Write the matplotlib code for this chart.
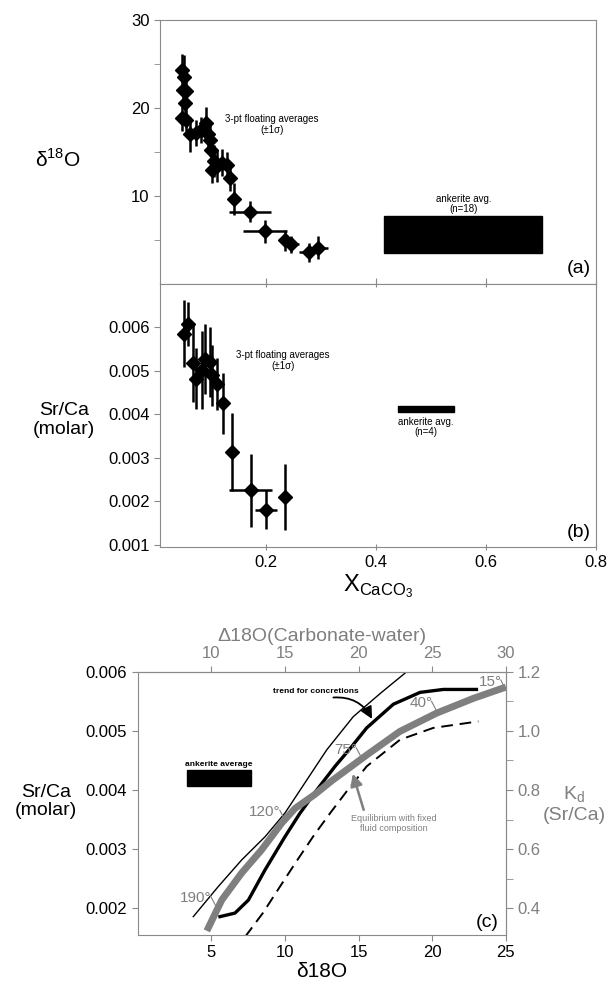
import matplotlib.pyplot as plt
import numpy as np
from matplotlib.patches import Rectangle

plt.rcParams["font.family"] = ["Liberation Sans", "DejaVu Sans"]

# panel (a): 3-pt floating averages, d18O vs X_CaCO3
A_X = [0.047, 0.050, 0.048, 0.054, 0.052, 0.047, 0.055, 0.062, 0.072, 0.082, 0.090, 0.094,
       0.098, 0.100, 0.101, 0.105, 0.110, 0.119, 0.128, 0.135, 0.142, 0.171, 0.198, 0.235,
       0.245, 0.278, 0.295]
A_Y = [24.3, 23.5, 22.0, 21.9, 20.6, 18.9, 18.7, 17.0, 17.2, 17.5, 18.3, 17.0,
       16.4, 15.2, 13.0, 14.0, 13.4, 13.8, 13.5, 12.1, 9.7, 8.2, 6.0, 4.95,
       4.5, 3.6, 4.1]
A_XERR = [0.004, 0.004, 0.005, 0.005, 0.005, 0.004, 0.005, 0.006, 0.008, 0.008, 0.008, 0.008,
          0.008, 0.008, 0.008, 0.008, 0.010, 0.012, 0.012, 0.008, 0.010, 0.038, 0.040, 0.010,
          0.015, 0.018, 0.018]
A_YERR = [1.9, 2.5, 2.0, 1.8, 1.5, 1.5, 1.3, 2.0, 1.5, 1.5, 1.8, 1.5,
          1.8, 2.0, 1.5, 1.8, 1.8, 1.5, 1.5, 1.5, 1.8, 1.2, 1.3, 1.2,
          1.0, 1.1, 1.3]
A_ANK = (0.415, 0.702, 3.56, 7.77)  # x0, x1, y0, y1

# panel (b): Sr/Ca vs X_CaCO3
B_X = [0.050, 0.057, 0.066, 0.073, 0.083, 0.089, 0.097, 0.101, 0.110, 0.122, 0.138, 0.172, 0.200, 0.235]
B_Y = [0.00586, 0.00608, 0.00518, 0.00482, 0.00503, 0.00528, 0.00520, 0.00490, 0.00470, 0.00426,
       0.00313, 0.00225, 0.00181, 0.00210]
B_XERR = [0.004, 0.004, 0.005, 0.005, 0.006, 0.006, 0.006, 0.006, 0.006, 0.006, 0.006, 0.039, 0.020, 0.010]
B_YERR = [0.00077, 0.00050, 0.00090, 0.00070, 0.00090, 0.00080, 0.00080, 0.00070, 0.00060, 0.00070,
          0.00090, 0.00085, 0.00045, 0.00075]
B_ANK = (0.44, 0.542, 0.00405, 0.00420)

# panel (c): model curves, Sr/Ca vs d18O
THIN_X = [3.78, 5.48, 7.07, 8.65, 10.0, 11.3, 12.84, 14.64, 16.46, 18.27]
THIN_Y = [0.00186, 0.00237, 0.00282, 0.00321, 0.00361, 0.00410, 0.00468, 0.00524, 0.00563, 0.00600]
THICK_X = [5.59, 6.61, 7.52, 8.65, 10.0, 11.0, 12.16, 13.4, 14.42, 15.55, 17.36, 19.17, 20.75, 23.0]
THICK_Y = [0.00186, 0.00192, 0.00214, 0.00265, 0.00321, 0.00360, 0.00400, 0.00440, 0.00470,
           0.00505, 0.00545, 0.00565, 0.00570, 0.00570]
GRAY_X = [4.7, 5.71, 7.07, 8.42, 9.78, 10.69, 12.0, 13.2, 14.4, 15.6, 17.8, 20.3, 22.8, 25.0]
GRAY_Y = [0.00162, 0.00214, 0.00260, 0.00299, 0.00344, 0.00369, 0.00392, 0.00416, 0.00438,
          0.00460, 0.00499, 0.00530, 0.00555, 0.00574]
DASH_X = [7.3, 8.5, 9.67, 10.69, 11.93, 13.1, 14.2, 15.55, 17.81, 20.07, 23.13]
DASH_Y = [0.00152, 0.00192, 0.00237, 0.00276, 0.00322, 0.00362, 0.00398, 0.00440, 0.00485,
          0.00505, 0.00516]
TEMP_LABELS = ["190°", "120°", "75°", "40°", "15°"]
TEMP_X = [5.0, 9.7, 14.9, 20.0, 24.7]
TEMP_Y = [0.00218, 0.00363, 0.00468, 0.00547, 0.00583]
C_ANK = (3.33, 7.73, 0.00406, 0.00434)

GRAY = "#7f7f7f"
SPINE = "#8a8a8a"


def style_axes(ax):
    for s in ax.spines.values():
        s.set_color(SPINE)
        s.set_linewidth(0.8)
    ax.tick_params(labelsize=12, color=SPINE, length=4)


fig = plt.figure(figsize=(6.11, 9.81), dpi=100)

# ---------- (a)
ax_a = fig.add_axes([0.262, 0.7105, 0.7135, 0.269])
ax_a.errorbar(A_X, A_Y, xerr=A_XERR, yerr=A_YERR, fmt="D", color="black", ms=7.5,
              elinewidth=1.8, capsize=0)
x0, x1, y0, y1 = A_ANK
ax_a.add_patch(Rectangle((x0, y0), x1 - x0, y1 - y0, color="black"))
ax_a.text((x0 + x1) / 2, y1 + 0.2, "ankerite avg.\n(n=18)", ha="center", va="bottom",
          fontsize=7, linespacing=1.0)
ax_a.text(0.21, 18.1, "3-pt floating averages\n(±1σ)", ha="center", va="center",
          fontsize=7, linespacing=1.1)
ax_a.text(0.79, 0.8, "(a)", ha="right", va="bottom", fontsize=14)
ax_a.set_xlim(0.007, 0.8)
ax_a.set_ylim(0, 30)
ax_a.set_yticks([10, 20, 30])
ax_a.set_yticks([5, 15, 25], minor=True)
ax_a.set_xticks([0.2, 0.4, 0.6])
ax_a.tick_params(axis="x", direction="in", labelbottom=False)
ax_a.tick_params(axis="y", which="minor", color=SPINE, length=4)
style_axes(ax_a)
fig.text(0.095, 0.837, r"δ$^{\mathregular{18}}$O", fontsize=15, ha="center", va="center")

# ---------- (b)
ax_b = fig.add_axes([0.262, 0.4424, 0.7135, 0.2681])
ax_b.errorbar(B_X, B_Y, xerr=B_XERR, yerr=B_YERR, fmt="D", color="black", ms=7.5,
              elinewidth=1.8, capsize=0)
x0, x1, y0, y1 = B_ANK
ax_b.add_patch(Rectangle((x0, y0), x1 - x0, y1 - y0, color="black"))
ax_b.text((x0 + x1) / 2, y0 - 0.0001, "ankerite avg.\n(n=4)", ha="center", va="top",
          fontsize=7, linespacing=1.0)
ax_b.text(0.23, 0.00524, "3-pt floating averages\n(±1σ)", ha="center", va="center",
          fontsize=7, linespacing=1.1)
ax_b.text(0.79, 0.00109, "(b)", ha="right", va="bottom", fontsize=14)
ax_b.set_xlim(0.007, 0.8)
ax_b.set_ylim(0.00095, 0.007)
ax_b.set_yticks([0.001, 0.002, 0.003, 0.004, 0.005, 0.006])
ax_b.set_yticklabels(["0.001", "0.002", "0.003", "0.004", "0.005", "0.006"])
ax_b.set_xticks([0.2, 0.4, 0.6, 0.8])
ax_b.set_xticklabels(["0.2", "0.4", "0.6", "0.8"])
ax_b.tick_params(axis="x", top=True, direction="inout", length=6)
style_axes(ax_b)
ax_b.set_xlabel(r"X$_{\mathregular{CaCO_3}}$", fontsize=17, labelpad=2)
fig.text(0.105, 0.572, "Sr/Ca\n(molar)", fontsize=14, ha="center", va="center",
         linespacing=1.1)

# ---------- (c)
ax_c = fig.add_axes([0.2252, 0.0469, 0.6028, 0.2684])
ax_c.plot(THIN_X, THIN_Y, color="black", lw=1.0)
ax_c.plot(THICK_X, THICK_Y, color="black", lw=2.4, solid_joinstyle="round")
ax_c.plot(DASH_X, DASH_Y, color="black", lw=1.4, ls=(0, (6, 3.5)))
ax_c.plot(GRAY_X, GRAY_Y, color=GRAY, lw=5, solid_capstyle="butt", solid_joinstyle="round")
for lab, tx, ty in zip(TEMP_LABELS, TEMP_X, TEMP_Y):
    ax_c.text(tx, ty, lab, ha="right", va="center", fontsize=11, color=GRAY)
    ax_c.plot([tx - 0.05, tx + 0.35], [ty + 0.00003, ty - 0.00016], color=GRAY, lw=0.8)
x0, x1, y0, y1 = C_ANK
ax_c.add_patch(Rectangle((x0, y0), x1 - x0, y1 - y0, color="black"))
ax_c.text((x0 + x1) / 2, y1 + 0.00004, "ankerite average", ha="center", va="bottom",
          fontsize=6, fontweight="bold")
ax_c.text(12.1, 0.00566, "trend for concretions", ha="center", va="center",
          fontsize=6, fontweight="bold")
ax_c.annotate("", xy=(16.0, 0.00516), xytext=(13.1, 0.00556),
              arrowprops=dict(arrowstyle="-|>", color="black", lw=1.3,
                              connectionstyle="arc3,rad=-0.35", mutation_scale=18))
ax_c.text(17.4, 0.00344, "Equilibrium with fixed\nfluid composition", ha="center",
          va="center", fontsize=6.5, color=GRAY, linespacing=1.1)
ax_c.annotate("", xy=(14.55, 0.00432), xytext=(15.4, 0.00362),
              arrowprops=dict(arrowstyle="-|>", color=GRAY, lw=1.8, mutation_scale=18))
ax_c.text(24.5, 0.00162, "(c)", ha="right", va="bottom", fontsize=14)
ax_c.set_xlim(0, 25)
ax_c.set_ylim(0.00155, 0.006)
ax_c.set_xticks([5, 10, 15, 20, 25])
ax_c.set_yticks([0.002, 0.003, 0.004, 0.005, 0.006])
ax_c.set_yticklabels(["0.002", "0.003", "0.004", "0.005", "0.006"])
style_axes(ax_c)
ax_c.set_xlabel("δ18O", fontsize=15, labelpad=1)
fig.text(0.075, 0.183, "Sr/Ca\n(molar)", fontsize=14, ha="center", va="center",
         linespacing=1.1)

ax_k = ax_c.secondary_yaxis("right", functions=(lambda s: s * 200, lambda k: k / 200))
ax_k.set_yticks([0.4, 0.6, 0.8, 1.0, 1.2])
ax_k.set_yticks([0.5, 0.7, 0.9, 1.1], minor=True)
ax_k.tick_params(labelsize=12, labelcolor=GRAY, color=SPINE, length=5)
ax_k.tick_params(which="minor", color=SPINE, length=5)
ax_k.spines["right"].set_color(SPINE)
fig.text(0.94, 0.18, "K$_\\mathregular{d}$\n(Sr/Ca)", fontsize=14, ha="center",
         va="center", color=GRAY, linespacing=1.1)

ax_t = ax_c.secondary_xaxis("top", functions=(lambda d: d + 5, lambda D: D - 5))
ax_t.set_xticks([10, 15, 20, 25, 30])
ax_t.tick_params(labelsize=12, labelcolor=GRAY, color=SPINE, length=4)
ax_t.spines["top"].set_color(SPINE)
ax_t.set_xlabel("Δ18O(Carbonate-water)", fontsize=14, color=GRAY, labelpad=4)

fig.savefig("out.png", dpi=100)
